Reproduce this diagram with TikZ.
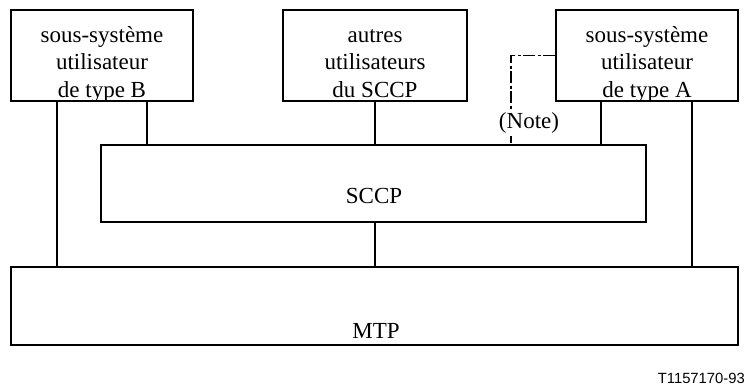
\documentclass[tikz,border=0pt]{standalone}
\usepackage{fontspec}
\setmainfont{Liberation Serif}
\newfontfamily\capfont{Liberation Sans}
\begin{document}
\begin{tikzpicture}[x=1pt,y=-1pt,
  box/.style={draw,line width=1.2pt,minimum width=#1,inner sep=0pt},
  txt/.style={font=\fontsize{23}{27.5}\selectfont,align=center,inner sep=0pt},
  conn/.style={line width=2pt},
  notel/.style={line width=1.4pt,dash pattern=on 12pt off 2.5pt on 3pt off 2.5pt}]
\useasboundingbox (0,0) rectangle (750,390);
% boxes
\node[box=182pt,minimum height=91pt] (B) at (102,55.5) {};
\node[box=184pt,minimum height=91pt] (U) at (375,55.5) {};
\node[box=182pt,minimum height=91pt] (A) at (647,55.5) {};
\node[box=545pt,minimum height=77pt] (S) at (373.5,183.5) {};
\node[box=727pt,minimum height=78pt] (M) at (374.5,306) {};
% texts
\node[txt] (tB) at (102,64.5) {\strut sous-système\\utilisateur\\de type B\strut};
\node[txt] (tU) at (375,64.5) {\strut autres\\utilisateurs\\du SCCP\strut};
\node[txt] (tA) at (647,64.5) {\strut sous-système\\utilisateur\\de type A\strut};
\node[txt,anchor=base] (tS) at (374,203.5) {SCCP};
\node[txt,anchor=base] (tM) at (376,338) {MTP};
% connector x positions
\coordinate (x1) at (57,0);
\coordinate (x2) at (147,0);
\coordinate (x3) at (375,0);
\coordinate (x4) at (601,0);
\coordinate (x5) at (692,0);
\coordinate (x6) at (511,0);
\draw[conn] (x1 |- B.south) -- (x1 |- M.north);
\draw[conn] (x2 |- B.south) -- (x2 |- S.north);
\draw[conn] (x3 |- U.south) -- (x3 |- S.north);
\draw[conn] (x3 |- S.south) -- (x3 |- M.north);
\draw[conn] (x4 |- A.south) -- (x4 |- S.north);
\draw[conn] (x5 |- A.south) -- (x5 |- M.north);
\draw[notel] (A.west) -| (x6 |- S.north);
\node[txt,fill=white,inner xsep=1pt,inner ysep=2pt,anchor=base] (note) at (529,129) {(Note)};
\node[font=\capfont\fontsize{14.8}{16}\selectfont,anchor=base east,inner sep=0pt] (cap) at (745,383) {T1157170-93};
\end{tikzpicture}
\end{document}
